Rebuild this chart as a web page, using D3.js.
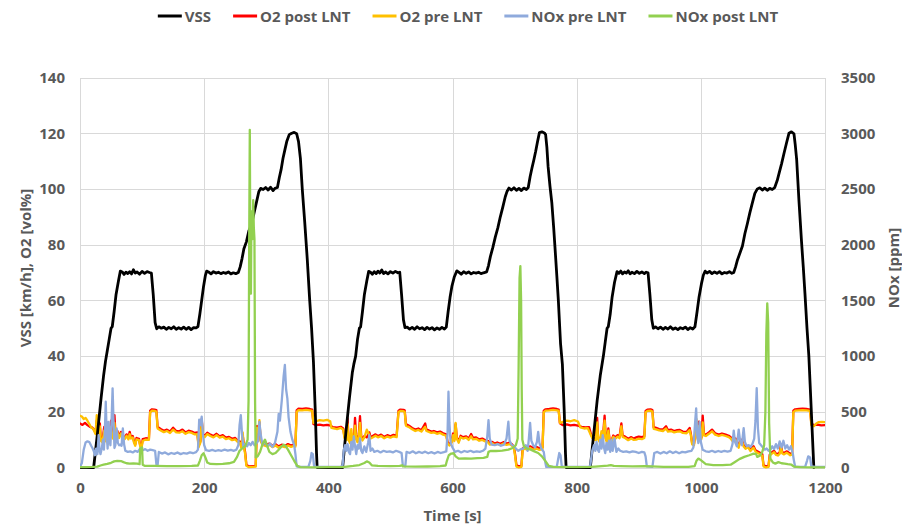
<!DOCTYPE html>
<html><head><meta charset="utf-8">
<script src="https://cdn.jsdelivr.net/npm/d3@7"></script>
<style>
html,body{margin:0;padding:0;background:#fff;}
svg text{font-family:"Open Sans",sans-serif;font-weight:700;fill:#595959;}
</style></head>
<body>
<script>
// ---------------- DATA ----------------
const seriesNames = ["VSS", "O2 post LNT", "O2 pre LNT", "NOx pre LNT", "NOx post LNT"];
const seriesColors = ["#000000", "#FF0000", "#FFC000", "#8FAADC", "#92D050"];
const xTicks = [0, 200, 400, 600, 800, 1000, 1200];
const yLeftTicks = [0, 20, 40, 60, 80, 100, 120, 140];
const yRightTicks = [0, 500, 1000, 1500, 2000, 2500, 3000, 3500];
const xTitle = "Time [s]";
const yLeftTitle = "VSS [km/h], O2 [vol%]";
const yRightTitle = "NOx [ppm]";

// [time s, km/h]
const vssData = [
[0,0],[22,0],[28,12],[34,25],[38,33],[41,38],[44,42],[47,46],[50,50],[52,50.6],[55,56],[58,62],[62,67],[65,70.5],[68,70.2],[71,69.3],[74,70.1],[77,69.6],[80,70.3],[83,69.5],[86,71],[89,69.8],[92,70.2],[96,69.4],[100,70.4],[104,69.7],[108,70.3],[112,70],[115,69.8],[118,62],[121,52],[123.5,49.8],[127,50.5],[131,50],[135,50.4],[139,49.6],[143,50.3],[147,49.8],[151,50.5],[155,49.6],[159,50.2],[163,49.7],[167,50.4],[171,49.6],[175,50.3],[179,49.5],[183,50.2],[187,50.1],[190,50.6],[193,55],[196,60],[199,65],[202,69],[204,70.5],[207,70.2],[211,69.5],[215,70.3],[219,69.8],[223,70.1],[227,69.6],[231,70],[235,69.7],[239,70.2],[243,69.5],[247,69.9],[251,69.6],[255,70],[258,72],[261,75],[264,78.5],[268,81],[272,85],[276,87],[280,91],[284,95],[288,99],[291,100.2],[295,99.8],[299,100.5],[303,99.6],[307,100.6],[311,99.4],[314,100.2],[318,100.5],[321,104],[324,107],[327,111],[330,114],[333,117],[337,119.5],[341,120],[345,120.3],[349,119.8],[352,117],[355,111],[358,100],[362,88],[366,75],[370,60],[373,50],[376,38],[379,20],[381,5],[382,0],
[423,0],[428,12],[434,25],[438.6,34],[441,37],[444,40],[447,46],[450,50],[452,50.5],[455,56],[458,62],[462,67],[465,70.4],[468,70.1],[471,69.4],[474,70.3],[477,69.6],[480,70.5],[483,69.8],[486,70.9],[489,69.6],[492,70.2],[496,69.5],[500,70.3],[504,69.8],[508,70.4],[512,69.9],[515,70.1],[518,62],[521,53],[523.5,50.2],[527,50.4],[531,49.7],[535,50.3],[539,49.6],[543,50.5],[547,49.8],[551,50.2],[555,49.5],[559,50.3],[563,49.7],[567,50.2],[571,49.4],[575,50.1],[579,49.6],[583,50.3],[587,49.7],[590,50.4],[593,56],[596,61],[599,65],[603,68.5],[607,70.6],[610,70.1],[614,69.4],[618,70.3],[622,69.7],[626,70.2],[630,69.5],[634,70],[638,69.8],[642,70.1],[646,69.6],[650,69.9],[655,70.2],[658,72.5],[661,75.7],[665,79],[669,82.8],[673,86],[677,90],[681,93.5],[685,97.2],[688,99.2],[691,100.3],[695,99.6],[699,100.4],[703,99.5],[707,100.2],[711,99.4],[715,100.3],[719,99.8],[722,100.5],[725,104.4],[728,107.5],[731,110.4],[734,113.5],[737,117],[740,120.2],[744,120.5],[748,120.1],[750,119.5],[752,115],[754,108],[757,101],[760,95],[763,86],[765,79.3],[768,69],[770.5,60],[774,44.6],[777,37],[780,20],[782,5],[783,0],
[822,0],[827,11],[833,24],[838,33],[843,40],[846,45],[849,50],[851,50.6],[854,55],[857,61],[861,66.5],[865,70.3],[868,69.7],[871,70.5],[874,69.5],[877,70.2],[880,69.8],[883,70.6],[886,69.5],[889,70.1],[893,69.6],[897,70.4],[901,69.7],[905,70.2],[909,69.6],[912,70.1],[915,69.9],[918,62],[921,53],[923.5,50],[927,50.5],[931,49.8],[935,50.4],[939,49.6],[943,50.3],[947,49.7],[951,50.5],[955,49.6],[959,50.1],[963,49.5],[967,50.2],[971,49.8],[975,50.4],[979,49.5],[983,50.2],[987,49.7],[990.5,50.5],[994,56],[997,61],[1001,66],[1004,69],[1007,70.5],[1010,69.8],[1014,70.4],[1018,69.6],[1022,70.2],[1026,69.7],[1030,70.3],[1034,69.5],[1038,70],[1042,69.8],[1046,70.3],[1050,69.7],[1053,70],[1056,72],[1059,74.5],[1063,77],[1067,79.5],[1071,84],[1075,87.6],[1079,91.5],[1083,95],[1087,98.4],[1091,100],[1095,100.4],[1099,99.6],[1103,100.3],[1107,99.5],[1111,100.2],[1115,99.8],[1119,100.5],[1123,103],[1126,105.6],[1130,109],[1134,112.8],[1138,116.5],[1142,120],[1146,120.5],[1150,119.8],[1152,116],[1154.4,110.4],[1158,96],[1162,81.7],[1165,72],[1167.7,62.5],[1171,50],[1174,40],[1176,30],[1179,15],[1181,5],[1182,0]
];

// [time s, vol%]
const o2PostData = [
[0,15.8],[4,15.3],[8,16.0],[12,15.2],[16,14.6],[20,14.3],[23,13.5],[25,12.4],[27,16.8],[28.5,11.0],[30,10.2],[32,15.8],[33.5,10.4],[36,9.4],[39,14.6],[40.5,9.8],[43,11.6],[45,9.0],[48,10.2],[50,16.8],[51.5,11.6],[54,10.8],[55.5,18.8],[57,12.8],[60,13.2],[63,11.2],[66,12.8],[69,11.4],[72,10.8],[75,11.9],[78,10.6],[80,12.8],[82,10.9],[85,11.3],[87,9.4],[89,8.3],[91,10.6],[95,10.3],[97,8.0],[99,7.2],[101,10.2],[106,10.5],[111,10.4],[113,20.4],[116,20.9],[120,20.8],[123,20.6],[125,14.6],[130,13.8],[135,13.2],[140,13.6],[145,12.9],[150,14.3],[155,13.1],[160,13.0],[165,13.6],[170,12.6],[175,13.2],[180,12.9],[185,12.4],[189,12.6],[191,7.8],[194,9.5],[196,17.4],[198,12.0],[201,11.4],[205,12.5],[210,11.8],[215,11.3],[220,12.1],[225,11.2],[230,11.6],[235,10.7],[240,11.0],[245,10.3],[250,10.6],[254,9.7],[258,9.2],[260,7.4],[262,11.8],[264,8.0],[266,5.5],[268,1.0],[272,0.4],[278,0.5],[283,0.6],[285,14.8],[287,13.2],[289,16.2],[291,9.8],[294,8.6],[300,8.2],[305,8.6],[310,7.8],[315,8.4],[320,7.6],[325,8.2],[330,7.8],[335,8.4],[340,7.9],[345,8.3],[347,8.0],[349,20.5],[352,21.1],[358,21.0],[364,21.2],[370,21.0],[374,20.8],[376,15.6],[380,15.2],[386,15.4],[392,15.1],[398,15.3],[404,15.0],[407,14.5],[414,14.3],[420,14.6],[424,14.0],
[426,11.0],[429,10.2],[431,17.6],[432.5,10.4],[435,9.2],[437,12.0],[439,10.0],[441,9.0],[443,17.8],[445,10.6],[447,9.4],[449,11.8],[451,18.4],[453,11.2],[455,10.2],[458,11.3],[462,10.8],[466,12.6],[468,10.9],[472,11.4],[476,11.9],[480,11.3],[485,11.8],[490,11.0],[495,11.6],[500,11.2],[505,11.7],[510,11.4],[513,20.4],[516,20.8],[521,20.7],[523,20.5],[525,15.6],[530,15.0],[535,14.2],[540,13.6],[545,14.0],[550,13.4],[553,14.6],[556,15.8],[558,13.6],[562,13.3],[566,12.9],[570,13.1],[575,12.6],[580,12.9],[585,12.3],[590,11.9],[592,9.2],[595,8.4],[598,9.0],[601,12.2],[603,10.0],[605,15.6],[607,10.8],[610,9.4],[613,11.4],[617,10.9],[622,11.2],[626,10.4],[630,12.0],[633,10.6],[638,10.8],[643,10.1],[648,10.4],[653,9.8],[657,9.6],[660,8.7],[664,9.2],[668,8.6],[672,9.0],[677,8.5],[682,9.1],[687,8.6],[692,8.9],[696,8.3],[699,7.4],[701,4.5],[703,0.8],[707,0.4],[711,0.6],[713,6.8],[716,7.4],[720,7.0],[725,7.6],[730,7.0],[735,7.4],[740,6.9],[745,7.2],[747,20.4],[750,20.9],[756,21.0],[762,21.2],[768,21.0],[771,20.8],[773,15.9],[778,15.2],[784,15.5],[790,15.1],[796,15.3],[802,15.0],[808,14.6],[814,14.4],[820,14.5],[823,12.0],
[825,11.0],[828,10.4],[831,10.2],[833,17.8],[834.5,10.6],[837,9.6],[840,11.6],[842,10.0],[845,18.6],[847,10.4],[849,9.4],[851,14.0],[853,10.0],[856,9.6],[859,11.5],[862,10.8],[866,11.6],[869,11.0],[872,15.8],[874,11.5],[878,11.1],[883,10.3],[888,10.9],[892,10.4],[896,10.8],[900,11.1],[905,10.9],[909,11.2],[911,20.3],[914,20.8],[919,20.9],[922,20.6],[924,14.5],[928,14.2],[933,13.8],[939,13.6],[944,14.8],[947,13.4],[952,13.6],[957,13.1],[962,13.4],[966,13.5],[971,12.9],[977,12.8],[982,14.2],[984,12.0],[986,8.8],[989,8.5],[991,12.5],[993,16.0],[995,10.5],[997,16.5],[999,11.4],[1001,10.8],[1003,18.6],[1005,12.0],[1008,11.8],[1013,12.6],[1018,13.6],[1023,12.3],[1029,11.8],[1034,12.2],[1040,11.8],[1045,11.4],[1048,10.9],[1051,10.0],[1056,10.4],[1059,8.6],[1061,7.6],[1063,9.6],[1066,10.0],[1069,8.0],[1072,7.2],[1076,7.8],[1080,6.4],[1083,7.2],[1085,7.6],[1088,6.2],[1091,5.8],[1096,5.2],[1099,4.8],[1101,0.8],[1105,0.4],[1109,0.6],[1111,4.6],[1113,5.2],[1118,6.0],[1121,5.0],[1124,4.8],[1127,5.4],[1129,8.4],[1131,5.6],[1134,5.2],[1138,5.8],[1140,5.6],[1144,4.9],[1147,5.2],[1149,20.4],[1152,20.9],[1158,21.0],[1164,21.1],[1170,21.0],[1176,20.8],[1178,15.8],[1182,15.2],[1188,15.4],[1194,15.1],[1200,15.2]
];

// [time s, vol%]
const o2PreData = [
[0,18.6],[3,18.3],[6,17.4],[9,17.8],[12,16.8],[15,15.6],[18,14.4],[21,13.9],[23,13.0],[25,12.0],[27,18.8],[28.5,10.6],[30,9.8],[32,14.8],[33.5,9.6],[36,9.0],[39,13.2],[40.5,9.4],[43,11.0],[45,8.4],[48,9.8],[50,14.6],[51.5,11.0],[54,10.2],[55.5,16.0],[57,12.2],[60,12.8],[63,10.6],[66,12.2],[69,11.0],[72,10.2],[75,11.4],[78,10.1],[80,12.0],[82,10.4],[85,10.8],[87,8.9],[89,7.8],[91,10.1],[95,9.8],[97,7.6],[99,6.8],[101,9.6],[106,10.0],[111,9.9],[113,19.8],[116,20.4],[120,20.3],[123,20.1],[125,14.0],[130,13.3],[135,12.7],[140,13.1],[145,12.4],[150,13.6],[155,12.6],[160,12.5],[165,13.0],[170,12.1],[175,12.7],[180,12.4],[185,11.9],[189,12.0],[191,7.2],[194,9.0],[196,16.8],[198,11.5],[201,10.9],[205,12.0],[210,11.3],[215,10.8],[220,11.6],[225,10.7],[230,11.1],[235,10.2],[240,10.5],[245,9.8],[250,10.1],[254,9.2],[258,8.7],[260,6.9],[262,12.6],[264,7.6],[266,4.8],[268,0.6],[272,0.1],[278,0.2],[283,0.3],[285,14.2],[287,12.8],[289,17.0],[291,9.4],[294,8.1],[300,7.7],[305,8.1],[310,7.3],[315,7.9],[320,7.1],[325,7.7],[330,7.3],[335,7.9],[340,7.4],[345,7.8],[347,7.5],[349,20.0],[352,20.6],[358,20.5],[364,20.7],[370,20.5],[374,20.3],[376,16.0],[380,16.6],[386,17.0],[392,16.8],[398,17.1],[403,16.6],[405,14.2],[410,14.0],[414,13.8],[420,14.2],[424,13.6],
[426,10.6],[429,9.8],[431,15.6],[432.5,10.0],[435,8.8],[437,13.8],[439,9.6],[441,8.6],[443,15.0],[445,10.2],[447,9.0],[449,11.2],[451,16.0],[453,10.7],[455,9.7],[458,10.8],[462,13.6],[466,11.6],[468,10.4],[472,10.9],[476,11.4],[480,10.8],[485,11.3],[490,10.5],[495,11.1],[500,10.7],[505,11.2],[510,10.9],[513,19.9],[516,20.3],[521,20.2],[523,20.0],[525,15.0],[530,14.5],[535,13.7],[540,13.1],[545,13.5],[550,12.9],[553,13.8],[556,14.6],[558,13.1],[562,12.8],[566,12.4],[570,12.6],[575,12.1],[580,12.4],[585,11.8],[590,11.4],[592,8.7],[595,7.9],[598,8.5],[601,11.6],[603,9.5],[605,16.0],[607,10.3],[610,8.9],[613,10.9],[617,10.4],[622,10.7],[626,9.9],[630,11.2],[633,10.1],[638,10.3],[643,9.6],[648,9.9],[653,9.3],[657,9.1],[660,8.2],[664,8.7],[668,8.1],[672,8.5],[677,8.0],[682,8.6],[687,8.1],[692,8.4],[696,7.8],[699,6.9],[701,3.8],[703,0.3],[707,0.0],[711,0.2],[713,6.2],[716,6.8],[720,6.4],[725,7.0],[730,6.4],[735,6.8],[740,6.3],[745,6.6],[747,19.9],[750,20.4],[756,20.5],[762,20.7],[768,20.5],[771,20.3],[773,16.0],[778,16.4],[784,16.8],[790,16.6],[796,17.0],[802,16.5],[806,14.4],[812,14.0],[818,14.1],[823,11.6],
[825,10.6],[828,10.0],[831,9.8],[833,16.2],[834.5,10.2],[837,9.2],[840,13.0],[842,9.6],[845,16.8],[847,10.0],[849,9.0],[851,13.2],[853,9.6],[856,9.2],[859,11.0],[862,10.3],[866,11.1],[869,10.5],[872,14.8],[874,11.0],[878,10.6],[883,9.8],[888,10.4],[892,9.9],[896,10.0],[900,10.4],[905,10.2],[909,10.6],[911,19.8],[914,20.3],[919,20.4],[922,20.1],[924,13.9],[928,13.7],[933,13.3],[939,13.1],[944,14.0],[947,12.9],[952,13.1],[957,12.6],[962,12.9],[966,13.0],[971,12.4],[977,12.3],[982,13.4],[984,11.5],[986,8.3],[989,8.0],[991,11.8],[993,17.4],[995,10.0],[997,14.8],[999,10.9],[1001,10.3],[1003,16.2],[1005,11.5],[1008,11.3],[1013,12.1],[1018,13.0],[1023,11.8],[1029,11.3],[1034,11.7],[1040,11.3],[1045,10.9],[1048,10.4],[1051,9.5],[1056,9.9],[1059,8.1],[1061,7.1],[1063,9.0],[1066,9.5],[1069,7.5],[1072,6.7],[1076,7.3],[1080,5.9],[1083,6.7],[1085,7.1],[1088,5.7],[1091,5.3],[1096,4.7],[1099,4.2],[1101,0.4],[1105,0.0],[1109,0.2],[1111,4.1],[1113,4.7],[1118,5.5],[1121,4.5],[1124,4.3],[1127,4.9],[1129,7.6],[1131,5.1],[1134,4.7],[1138,5.3],[1140,5.1],[1144,4.4],[1147,4.7],[1149,19.9],[1152,20.4],[1158,20.5],[1164,20.6],[1170,20.5],[1176,20.3],[1178,15.2],[1182,14.8],[1186,15.8],[1190,16.3],[1195,16.4],[1200,16.3]
];

// [time s, ppm]
const noxPreData = [
[0,5],[3,40],[6,160],[9,225],[12,235],[15,228],[18,195],[20,175],[22,150],[24,110],[26,170],[28,120],[30,290],[31.5,150],[33,120],[35,170],[37,250],[38.5,160],[40,320],[41.5,590],[43,300],[44.5,170],[46,410],[47.5,250],[49,200],[51,450],[52.5,710],[54,420],[55.5,175],[57,200],[59,350],[61,220],[63,200],[65,205],[67,195],[69,350],[71,210],[73,150],[77,140],[81,145],[85,135],[89,150],[93,140],[97,170],[101,155],[105,165],[109,150],[113,160],[117,155],[121,150],[123,30],[125,20],[127,140],[132,125],[137,135],[142,118],[147,130],[152,122],[157,135],[162,120],[167,130],[172,125],[177,135],[182,128],[187,138],[190,160],[192,430],[194,380],[196,456],[198,300],[200,200],[203,155],[208,150],[213,158],[218,148],[223,155],[228,150],[233,160],[238,152],[243,158],[248,150],[252,160],[255,200],[257,380],[259,470],[261,300],[263,190],[266,210],[269,190],[272,220],[275,200],[278,230],[281,200],[284,215],[287,240],[289,410],[291,300],[294,200],[298,230],[302,190],[306,215],[310,185],[314,220],[318,320],[320,480],[322,420],[325,600],[328,820],[330,920],[332,700],[334,620],[336,450],[339,320],[342,250],[345,200],[347,120],[349,10],[352,5],[360,5],[368,8],[371,60],[373,130],[375,120],[377,15],[380,5],[390,5],[400,5],[410,5],[420,5],
[423,20],[425,160],[427,200],[429,150],[431,210],[433,140],[435,120],[437,230],[439,160],[441,280],[443,190],[445,120],[447,200],[449,170],[451,260],[453,150],[455,130],[458,190],[461,140],[464,220],[466,290],[468,150],[471,170],[474,140],[479,150],[484,135],[489,150],[494,140],[499,145],[504,135],[509,150],[514,140],[518,130],[520,20],[524,10],[526,140],[531,130],[536,145],[541,128],[546,140],[551,130],[556,142],[561,128],[566,138],[571,125],[576,140],[581,130],[586,138],[590,145],[592,300],[593.5,680],[595,400],[597,220],[600,180],[604,140],[609,150],[614,135],[619,148],[624,140],[629,150],[634,138],[639,145],[644,140],[649,150],[653,170],[656,280],[658,426],[660,260],[663,205],[668,200],[673,210],[678,195],[683,205],[687,260],[690,411],[692,240],[695,205],[699,190],[702,170],[706,150],[710,165],[714,170],[718,200],[721,150],[723,260],[725,400],[727,240],[730,200],[733,180],[736,230],[738,320],[740,220],[743,170],[747,140],[749,60],[751,5],[760,5],[768,8],[770,70],[772,130],[774,110],[776,10],[780,5],[790,5],[800,5],[810,5],[820,5],
[822,20],[825,150],[828,200],[830,150],[832,230],[834,160],[836,140],[838,250],[840,170],[842,290],[844,180],[846,130],[848,220],[850,160],[852,240],[854,140],[856,250],[858,150],[861,260],[864,140],[867,170],[870,150],[875,140],[880,145],[885,135],[890,145],[895,140],[900,130],[905,140],[909,135],[911,100],[913,10],[922,5],[925,130],[930,140],[935,125],[940,140],[945,128],[950,145],[955,130],[960,142],[965,128],[970,140],[975,135],[980,145],[985,150],[988,180],[991,420],[992.5,530],[994,300],[996,220],[998,410],[1000,230],[1003,160],[1008,145],[1013,140],[1018,150],[1023,138],[1028,148],[1033,140],[1038,150],[1043,142],[1048,150],[1051,210],[1053,330],[1055,230],[1058,190],[1061,340],[1063,250],[1066,200],[1069,354],[1071,230],[1074,190],[1077,200],[1080,185],[1083,210],[1086,260],[1088,420],[1090,711],[1092,350],[1094,220],[1097,200],[1100,180],[1103,160],[1106,170],[1109,150],[1112,160],[1115,190],[1118,165],[1121,210],[1124,170],[1127,235],[1130,180],[1133,240],[1136,170],[1139,200],[1142,160],[1145,190],[1148,130],[1150,60],[1152,5],[1160,5],[1168,5],[1171,60],[1173,100],[1176,90],[1178,10],[1185,5],[1200,5]
];

// [time s, ppm]
const noxPostData = [
[0,3],[10,4],[20,5],[28,8],[33,18],[38,25],[44,32],[50,42],[55,55],[60,60],[66,58],[70,48],[75,38],[80,35],[86,36],[92,35],[96,30],[97,175],[100,180],[101,25],[104,15],[120,14],[140,12],[160,13],[180,14],[190,18],[193,60],[196,110],[199,128],[202,90],[205,45],[210,32],[220,30],[230,33],[240,38],[248,50],[253,95],[257,150],[262,175],[266,190],[270,250],[271.5,600],[272.5,2000],[273.5,3030],[274.5,1800],[275.3,1560],[276,2150],[277,2300],[278,2050],[279,2400],[280,2150],[281,2050],[282,600],[283,90],[286,100],[290,140],[294,210],[298,250],[301,200],[305,140],[310,120],[315,130],[320,160],[325,190],[328,205],[331,195],[335,160],[340,110],[345,60],[350,15],[355,3],[380,2],[400,3],[422,4],
[430,8],[440,14],[450,22],[458,40],[462,55],[466,45],[470,20],[480,14],[500,12],[515,14],[519,20],[520,10],[540,8],[560,9],[580,12],[589,18],[591,60],[594,110],[598,125],[602,128],[605,100],[610,80],[620,82],[630,80],[640,84],[650,86],[656,95],[658,140],[662,150],[670,148],[680,152],[690,160],[697,175],[702,200],[705,260],[706.5,900],[708,1700],[709.3,1808],[710.5,1500],[711.5,700],[712.5,250],[715,190],[720,170],[726,160],[732,145],[738,130],[744,100],[750,55],[755,15],[762,5],[780,3],[800,3],[822,5],
[830,8],[840,12],[850,16],[855,22],[860,14],[870,12],[890,10],[910,12],[920,10],[940,6],[960,5],[980,6],[990,12],[993,60],[996,80],[999,70],[1003,52],[1008,30],[1020,22],[1035,22],[1048,25],[1055,50],[1062,75],[1070,95],[1078,110],[1085,125],[1089,120],[1091,95],[1095,105],[1099,140],[1102,200],[1104,500],[1105.5,1200],[1107,1473],[1108.5,1300],[1110,400],[1112,80],[1116,45],[1120,35],[1125,48],[1130,38],[1135,35],[1140,30],[1146,25],[1150,8],[1160,3],[1180,2],[1200,2]
];

// ---------------- CHART ----------------
const W = 902, H = 527;
const plot = {left: 80, right: 825, top: 77.5, bottom: 467.5};

const svg = d3.select("body").append("svg")
  .attr("width", W).attr("height", H)
  .style("display", "block");
svg.append("rect").attr("width", W).attr("height", H).attr("fill", "#fff");

const x = d3.scaleLinear().domain([0, 1200]).range([plot.left, plot.right]);
const yL = d3.scaleLinear().domain([0, 140]).range([plot.bottom, plot.top]);
const yR = d3.scaleLinear().domain([0, 3500]).range([plot.bottom, plot.top]);

// gridlines
const grid = svg.append("g").attr("stroke", "#D9D9D9").attr("stroke-width", 1).attr("shape-rendering", "crispEdges");
grid.selectAll("line.h").data(yLeftTicks).join("line").attr("class", "h")
  .attr("x1", plot.left).attr("x2", plot.right)
  .attr("y1", d => Math.round(yL(d)) + 0.5).attr("y2", d => Math.round(yL(d)) + 0.5);
grid.selectAll("line.v").data(xTicks).join("line").attr("class", "v")
  .attr("y1", plot.top).attr("y2", plot.bottom)
  .attr("x1", d => Math.round(x(d)) + 0.5).attr("x2", d => Math.round(x(d)) + 0.5);

// axes (labels only)
const fontSize = 15;
function styleAxis(g) {
  g.select(".domain").remove();
  g.selectAll(".tick line").remove();
  g.selectAll("text").attr("font-size", fontSize).attr("font-family", "Open Sans, sans-serif")
    .attr("font-weight", 700).attr("fill", "#595959");
}
svg.append("g").attr("transform", `translate(${plot.left},0)`)
  .call(d3.axisLeft(yL).tickValues(yLeftTicks).tickSize(0).tickPadding(15))
  .call(styleAxis);
svg.append("g").attr("transform", `translate(${plot.right},0)`)
  .call(d3.axisRight(yR).tickValues(yRightTicks).tickSize(0).tickPadding(16).tickFormat(d3.format("d")))
  .call(styleAxis);
svg.append("g").attr("transform", `translate(0,${plot.bottom})`)
  .call(d3.axisBottom(x).tickValues(xTicks).tickSize(0).tickPadding(15).tickFormat(d3.format("d")))
  .call(styleAxis);

// axis titles
svg.append("text").attr("x", (plot.left + plot.right) / 2).attr("y", 521)
  .attr("text-anchor", "middle").attr("font-size", fontSize).text(xTitle);
svg.append("text").attr("transform", "translate(31,268) rotate(-90)")
  .attr("text-anchor", "middle").attr("font-size", fontSize).text(yLeftTitle);
svg.append("text").attr("transform", "translate(899,268) rotate(-90)")
  .attr("text-anchor", "middle").attr("font-size", fontSize).text(yRightTitle);

// clip
svg.append("clipPath").attr("id", "clip").append("rect")
  .attr("x", plot.left).attr("y", plot.top - 2)
  .attr("width", plot.right - plot.left).attr("height", plot.bottom - plot.top + 4);

const lineL = d3.line().x(d => x(d[0])).y(d => yL(d[1]));
const lineR = d3.line().x(d => x(d[0])).y(d => yR(d[1]));

const lines = svg.append("g").attr("clip-path", "url(#clip)")
  .attr("fill", "none").attr("stroke-linejoin", "round").attr("stroke-linecap", "round");

const layers = [
  {data: o2PostData, gen: lineL, color: seriesColors[1], w: 2.3},
  {data: o2PreData, gen: lineL, color: seriesColors[2], w: 2.3},
  {data: vssData, gen: lineL, color: seriesColors[0], w: 2.8},
  {data: noxPreData, gen: lineR, color: seriesColors[3], w: 2.3},
  {data: noxPostData, gen: lineR, color: seriesColors[4], w: 2.3},
];
layers.forEach(l => {
  lines.append("path").attr("d", l.gen(l.data)).attr("stroke", l.color).attr("stroke-width", l.w);
});

// legend
const legend = svg.append("g");
let lx = 0;
seriesNames.forEach((name, i) => {
  const g = legend.append("g").attr("transform", `translate(${lx},0)`);
  g.append("line").attr("x1", 0).attr("x2", 24).attr("y1", 16).attr("y2", 16)
    .attr("stroke", seriesColors[i]).attr("stroke-width", 3);
  const t = g.append("text").attr("x", 27).attr("y", 21.5).attr("font-size", fontSize).text(name);
  const w = t.node().getComputedTextLength();
  lx += 27 + w + 22;
});
const legendWidth = lx - 22;
legend.attr("transform", `translate(${468 - legendWidth / 2},0)`);
</script>
</body></html>
